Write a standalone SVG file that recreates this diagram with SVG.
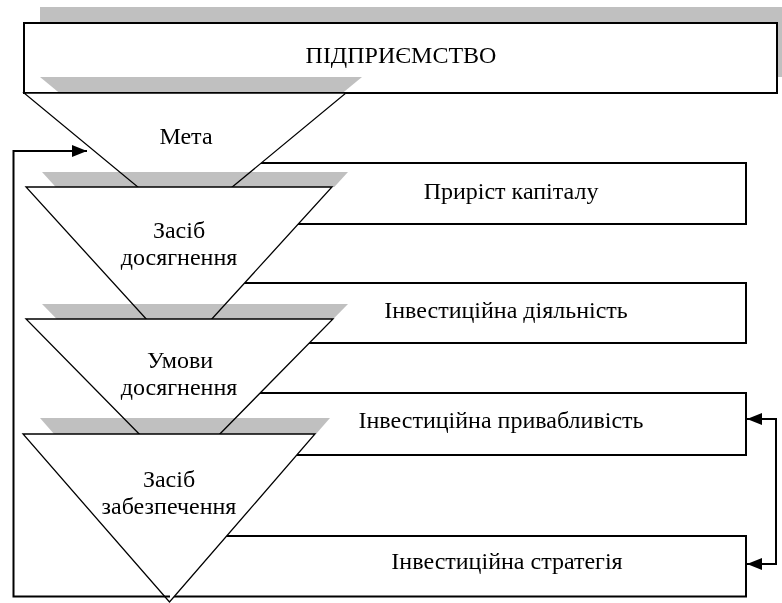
<svg xmlns="http://www.w3.org/2000/svg" width="782" height="603" viewBox="0 0 782 603">
<style>
text{font-family:"Liberation Serif","Times New Roman",serif;font-size:24px;fill:#000;text-anchor:middle}
.box{fill:#fff;stroke:#000;stroke-width:2}
.tri{fill:#fff;stroke:#000;stroke-width:1.3;stroke-linejoin:miter}
.sh{fill:#c0c0c0;mix-blend-mode:multiply}
.con{fill:none;stroke:#000;stroke-width:2}
</style>
<defs>
<marker id="ah" markerUnits="userSpaceOnUse" markerWidth="15" markerHeight="12" viewBox="0 0 15 12" refX="15" refY="6" orient="auto-start-reverse">
<path d="M0,0 L15,6 L0,12 z" fill="#000"/>
</marker>
</defs>
<g id="pidpryiemstvo">
<rect class="sh" x="40" y="7" width="760" height="70"/>
<rect class="box" x="24" y="23" width="753" height="70"/>
<text x="401" y="63">ПІДПРИЄМСТВО</text>
</g>
<g id="box-pryrist">
<rect class="box" x="150" y="163" width="596" height="61"/>
<text x="511" y="199">Приріст капіталу</text>
</g>
<g id="tri-meta">
<polygon class="sh" points="40,77 362,77 342.6,93 59.4,93"/>
<polygon class="tri" points="24,93 346,93 185,226"/>
<text x="186" y="144">Мета</text>
</g>
<g id="box-diialnist">
<rect class="box" x="150" y="283" width="596" height="60"/>
<text x="506" y="318">Інвестиційна діяльність</text>
</g>
<g id="tri-zasib-dosiahnennia">
<polygon class="sh" points="42,172 348,172 334.3,187 55.7,187"/>
<polygon class="tri" points="26,187 332,187 179,355"/>
<text x="179" y="238">Засіб</text>
<text x="179" y="265">досягнення</text>
</g>
<g id="box-pryvablyvist">
<rect class="box" x="150" y="393" width="596" height="62"/>
<text x="501" y="428">Інвестиційна привабливість</text>
</g>
<g id="tri-umovy">
<polygon class="sh" points="42,304 348,304 333.3,319 56.7,319"/>
<polygon class="tri" points="26,319 333,319 179.5,475"/>
<text x="180" y="368">Умови</text>
<text x="179" y="395">досягнення</text>
</g>
<g id="box-stratehiia">
<rect class="box" x="170" y="536" width="576" height="60.5"/>
<text x="507" y="569">Інвестиційна стратегія</text>
</g>
<g id="tri-zasib-zabezpechennia">
<polygon class="sh" points="40,418 330,418 316,434 54,434"/>
<polygon class="tri" points="23,434 315,434 169.5,602"/>
<text x="169" y="487">Засіб</text>
<text x="169" y="514">забезпечення</text>
</g>
<g id="connectors">
<polyline class="con" points="170,596.5 13.5,596.5 13.5,151 87,151" marker-end="url(#ah)"/>
<polyline class="con" points="747,419 776,419 776,564 747,564" marker-start="url(#ah)" marker-end="url(#ah)"/>
</g>
</svg>
